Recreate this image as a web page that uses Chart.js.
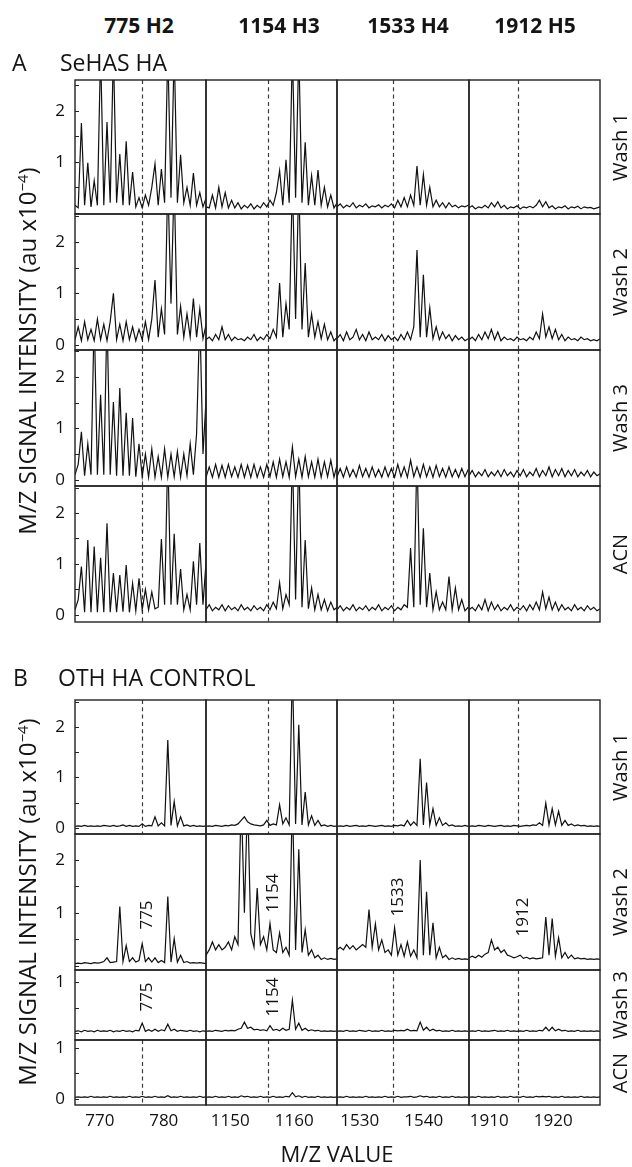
<!DOCTYPE html>
<html>
<head>
<meta charset="utf-8">
<script src="https://cdn.jsdelivr.net/npm/chart.js@4.4.1/dist/chart.umd.min.js"></script>
<style>
  body { margin: 0; background: #fff; }
  #fig { position: relative; width: 632px; height: 1167px; font-family: "Open Sans", sans-serif; color: #141414; overflow: hidden; }
  #fig canvas { position: absolute; }
  .t { position: absolute; white-space: nowrap; line-height: 1; }
  .rot { transform: translate(-50%, -50%) rotate(-90deg); }
  .ctr { transform: translate(-50%, -50%); }
  .lft { transform: translateY(-50%); }
  sup { font-size: 0.62em; line-height: 0; vertical-align: 0.55em; }
</style>
</head>
<body>
<div id="fig"></div>
<script>
// m/z windows, one per column
const colMin = [766.13, 1146.21, 1526.45, 1906.84];
const colMax = [786.6, 1166.68, 1547.08, 1927.31];
const step = 0.5; // spacing of the sampled intensities
const dashAt = [776.6, 1155.9, 1535.2, 1914.5];
const dashLabel = ['775', '1154', '1533', '1912'];
const xTicks = [[770, 780], [1150, 1160], [1530, 1540], [1910, 1920]];
const headers = ['775 H2', '1154 H3', '1533 H4', '1912 H5'];
const rowNames = ['Wash 1', 'Wash 2', 'Wash 3', 'ACN'];
const yMarks = [0, 0.5, 1, 1.5, 2, 2.5];

// intensities (au x10^-4), column by column
const sehasWash1 = [
  [0.15,0.1,1.76,0.15,0.98,0.12,0.63,0.15,3.2,0.15,1.78,0.2,3.2,0.2, 1.15,0.15,1.4,0.15,0.8,0.12,0.3,0.1,0.35,0.15,0.5,0.96,0.15,0.86, 0.2,3.2,0.3,3.2,0.2,1.14,0.2,0.5,0.15,0.78,0.15,0.4,0.12,0.3],
  [0.12,0.1,0.35,0.1,0.5,0.12,0.4,0.1,0.25,0.1,0.2,0.08,0.15,0.1, 0.18,0.08,0.15,0.1,0.2,0.12,0.25,0.15,0.4,0.83,0.15,1.04,0.2,3.2, 0.3,3.2,0.2,1.38,0.15,0.73,0.15,0.84,0.15,0.5,0.12,0.35,0.1,0.2],
  [0.12,0.18,0.1,0.15,0.12,0.2,0.1,0.15,0.12,0.18,0.1,0.14,0.12,0.16, 0.1,0.15,0.12,0.18,0.1,0.25,0.12,0.3,0.12,0.35,0.15,0.92,0.15,0.75, 0.15,0.5,0.12,0.25,0.12,0.2,0.1,0.2,0.12,0.15,0.1,0.14,0.12,0.15],
  [0.1,0.14,0.08,0.12,0.1,0.15,0.1,0.2,0.12,0.22,0.1,0.15,0.08,0.12, 0.1,0.14,0.08,0.12,0.1,0.13,0.1,0.15,0.25,0.12,0.22,0.1,0.14,0.08, 0.12,0.1,0.14,0.08,0.12,0.1,0.13,0.08,0.12,0.1,0.11,0.08,0.1,0.12]
];
const sehasWash2 = [
  [0.1,0.35,0.08,0.45,0.1,0.3,0.08,0.5,0.1,0.4,0.08,0.45,1.0,0.1, 0.4,0.08,0.45,0.1,0.35,0.08,0.3,0.1,0.45,0.1,0.5,1.26,0.15,0.7, 0.2,3.2,0.8,3.2,0.2,0.75,0.15,0.6,0.15,0.9,0.15,0.7,0.12,0.4],
  [0.1,0.15,0.08,0.2,0.1,0.35,0.1,0.2,0.08,0.15,0.1,0.12,0.08,0.15, 0.1,0.2,0.08,0.15,0.1,0.2,0.12,0.3,0.15,1.2,0.15,0.8,0.3,3.2, 0.5,3.2,0.3,1.59,0.15,0.6,0.15,0.45,0.12,0.4,0.1,0.25,0.08,0.15],
  [0.12,0.2,0.08,0.25,0.1,0.15,0.3,0.1,0.2,0.08,0.25,0.1,0.15,0.1, 0.2,0.08,0.18,0.1,0.15,0.08,0.2,0.1,0.25,0.1,0.35,1.84,0.15,1.36, 0.15,0.72,0.12,0.35,0.1,0.25,0.12,0.2,0.08,0.18,0.1,0.15,0.08,0.12],
  [0.1,0.15,0.08,0.2,0.1,0.25,0.12,0.3,0.1,0.25,0.08,0.15,0.1,0.12, 0.08,0.15,0.1,0.12,0.08,0.15,0.1,0.25,0.12,0.6,0.15,0.35,0.12,0.3, 0.1,0.2,0.08,0.15,0.1,0.12,0.08,0.15,0.1,0.12,0.08,0.1,0.08,0.12]
];
const sehasWash3 = [
  [0.1,0.3,0.93,0.08,0.7,0.1,3.2,0.1,1.65,0.1,3.2,0.1,1.51,0.08, 1.78,0.08,1.3,0.08,1.2,0.06,0.7,0.06,0.5,0.05,0.6,0.05,0.45,0.05, 0.6,0.05,0.5,0.06,0.55,0.05,0.5,0.08,0.7,0.1,0.9,3.2,0.5,1.6],
  [0.05,0.25,0.05,0.3,0.05,0.28,0.05,0.3,0.06,0.25,0.05,0.3,0.05,0.28, 0.05,0.3,0.05,0.25,0.05,0.3,0.06,0.35,0.05,0.4,0.06,0.35,0.05,0.64, 0.06,0.4,0.05,0.45,0.06,0.35,0.05,0.4,0.05,0.35,0.06,0.38,0.05,0.3],
  [0.06,0.22,0.05,0.25,0.06,0.2,0.05,0.28,0.06,0.22,0.05,0.25,0.06,0.2, 0.05,0.25,0.06,0.22,0.05,0.3,0.06,0.25,0.05,0.38,0.06,0.25,0.05,0.3, 0.06,0.25,0.05,0.28,0.06,0.22,0.05,0.25,0.06,0.2,0.05,0.22,0.06,0.2],
  [0.08,0.18,0.06,0.15,0.08,0.2,0.06,0.15,0.08,0.18,0.06,0.2,0.08,0.15, 0.06,0.18,0.08,0.2,0.06,0.15,0.08,0.22,0.06,0.18,0.08,0.25,0.06,0.2, 0.08,0.22,0.06,0.18,0.08,0.2,0.06,0.15,0.08,0.18,0.06,0.15,0.08,0.12]
];
const sehasAcn = [
  [0.1,0.3,0.95,0.05,1.47,0.05,1.34,0.05,1.12,0.05,1.8,0.05,0.82,0.05, 0.78,0.06,0.98,0.05,0.62,0.08,0.72,0.1,0.5,0.1,0.45,0.12,0.15,1.49, 0.2,3.2,0.2,1.59,0.2,0.9,0.1,0.4,0.1,1.05,0.2,1.41,0.2,1.08],
  [0.1,0.2,0.08,0.15,0.1,0.2,0.08,0.18,0.1,0.15,0.08,0.2,0.1,0.15, 0.08,0.18,0.1,0.15,0.08,0.2,0.1,0.25,0.12,0.63,0.12,0.4,0.2,3.2, 0.3,3.2,0.15,1.47,0.12,0.53,0.1,0.4,0.1,0.3,0.08,0.25,0.1,0.15],
  [0.1,0.18,0.08,0.15,0.1,0.2,0.08,0.15,0.1,0.18,0.08,0.15,0.1,0.2, 0.08,0.15,0.1,0.18,0.08,0.15,0.1,0.2,0.15,1.31,0.15,3.2,0.2,1.7, 0.15,0.82,0.1,0.45,0.1,0.25,0.1,0.75,0.1,0.53,0.1,0.3,0.08,0.15],
  [0.1,0.15,0.08,0.2,0.1,0.3,0.08,0.25,0.1,0.2,0.08,0.15,0.1,0.2, 0.08,0.15,0.1,0.18,0.08,0.2,0.1,0.25,0.1,0.45,0.12,0.35,0.1,0.25, 0.08,0.2,0.1,0.15,0.08,0.2,0.1,0.15,0.08,0.18,0.1,0.15,0.08,0.12]
];
const othWash1 = [
  [0.03,0.04,0.03,0.05,0.03,0.04,0.03,0.04,0.03,0.05,0.04,0.03,0.05,0.03, 0.04,0.06,0.03,0.05,0.03,0.04,0.03,0.08,0.03,0.05,0.04,0.22,0.04,0.1, 0.04,1.74,0.05,0.52,0.04,0.22,0.04,0.06,0.03,0.05,0.03,0.04,0.03,0.04],
  [0.03,0.04,0.03,0.05,0.04,0.03,0.05,0.04,0.06,0.05,0.08,0.15,0.22,0.12, 0.08,0.06,0.05,0.04,0.06,0.15,0.05,0.08,0.06,0.46,0.08,0.2,0.06,3.2, 0.08,2.04,0.06,0.71,0.06,0.24,0.05,0.15,0.04,0.06,0.03,0.05,0.03,0.04],
  [0.03,0.04,0.03,0.05,0.03,0.04,0.05,0.03,0.04,0.03,0.05,0.04,0.03,0.04, 0.05,0.03,0.04,0.03,0.05,0.04,0.06,0.04,0.15,0.05,0.12,0.05,1.37,0.06, 0.9,0.06,0.38,0.05,0.2,0.05,0.1,0.04,0.06,0.03,0.04,0.03,0.05,0.03],
  [0.03,0.04,0.03,0.05,0.04,0.03,0.05,0.04,0.03,0.04,0.05,0.03,0.04,0.03, 0.05,0.04,0.03,0.04,0.05,0.04,0.06,0.05,0.1,0.05,0.49,0.06,0.38,0.06, 0.33,0.05,0.15,0.05,0.08,0.04,0.06,0.04,0.05,0.03,0.04,0.03,0.04,0.03]
];
const othWash2 = [
  [0.04,0.05,0.04,0.06,0.05,0.04,0.06,0.05,0.06,0.08,0.15,0.06,0.07,0.08, 1.12,0.08,0.38,0.08,0.15,0.07,0.1,0.42,0.08,0.15,0.07,0.15,0.06,0.1, 0.06,1.31,0.07,0.51,0.07,0.2,0.06,0.08,0.05,0.06,0.05,0.06,0.05,0.04],
  [0.2,0.3,0.45,0.3,0.4,0.3,0.35,0.45,0.3,0.55,0.4,3.2,1.0,3.2, 0.6,0.35,1.47,0.4,0.55,0.3,0.8,0.3,0.25,0.62,0.25,0.35,0.2,3.2, 0.3,2.2,0.25,0.68,0.2,0.3,0.15,0.2,0.12,0.15,0.12,0.14,0.12,0.13],
  [0.3,0.35,0.3,0.4,0.32,0.38,0.3,0.35,0.4,0.35,1.06,0.35,0.79,0.3, 0.49,0.25,0.3,0.2,0.72,0.2,0.4,0.18,0.45,0.18,0.3,0.15,2.0,0.2, 1.4,0.2,0.81,0.15,0.35,0.15,0.2,0.12,0.15,0.12,0.14,0.12,0.13,0.12],
  [0.15,0.18,0.15,0.2,0.16,0.22,0.25,0.49,0.3,0.35,0.25,0.3,0.2,0.18, 0.15,0.17,0.2,0.14,0.16,0.13,0.15,0.13,0.14,0.15,0.92,0.2,0.89,0.18, 0.53,0.15,0.25,0.14,0.2,0.13,0.15,0.13,0.14,0.12,0.13,0.12,0.13,0.12]
];
const othWash3 = [
  [0.04,0.05,0.03,0.06,0.04,0.05,0.03,0.06,0.04,0.05,0.04,0.06,0.03,0.05, 0.04,0.06,0.04,0.05,0.03,0.06,0.05,0.2,0.04,0.07,0.04,0.08,0.04,0.07, 0.05,0.18,0.05,0.08,0.04,0.06,0.05,0.04,0.06,0.04,0.05,0.03,0.05,0.04],
  [0.04,0.05,0.04,0.06,0.05,0.04,0.06,0.05,0.06,0.05,0.08,0.1,0.22,0.1, 0.12,0.07,0.08,0.06,0.07,0.05,0.15,0.06,0.08,0.05,0.1,0.06,0.08,0.65, 0.08,0.2,0.06,0.1,0.05,0.07,0.05,0.06,0.04,0.05,0.04,0.05,0.04,0.05],
  [0.04,0.05,0.04,0.06,0.04,0.05,0.04,0.06,0.05,0.04,0.06,0.04,0.05,0.04, 0.06,0.04,0.05,0.04,0.06,0.05,0.06,0.05,0.08,0.05,0.06,0.05,0.22,0.06, 0.12,0.05,0.08,0.05,0.06,0.04,0.05,0.04,0.06,0.04,0.05,0.04,0.05,0.04],
  [0.04,0.05,0.04,0.06,0.04,0.05,0.04,0.05,0.06,0.04,0.05,0.04,0.06,0.04, 0.05,0.04,0.05,0.04,0.06,0.04,0.05,0.04,0.06,0.05,0.12,0.05,0.12,0.05, 0.08,0.05,0.06,0.04,0.05,0.04,0.06,0.04,0.05,0.04,0.05,0.04,0.05,0.04]
];
const othAcn = [
  [0.03,0.04,0.03,0.04,0.03,0.05,0.03,0.04,0.03,0.04,0.03,0.05,0.03,0.04, 0.03,0.04,0.03,0.05,0.03,0.04,0.03,0.05,0.03,0.04,0.03,0.05,0.03,0.04, 0.03,0.06,0.03,0.04,0.03,0.05,0.03,0.04,0.03,0.04,0.03,0.05,0.03,0.04],
  [0.03,0.04,0.03,0.05,0.03,0.04,0.03,0.05,0.03,0.04,0.03,0.06,0.04,0.05, 0.03,0.04,0.03,0.05,0.03,0.04,0.03,0.05,0.03,0.04,0.03,0.05,0.04,0.12, 0.04,0.06,0.03,0.05,0.03,0.04,0.03,0.05,0.03,0.04,0.03,0.04,0.03,0.04],
  [0.03,0.04,0.03,0.05,0.03,0.04,0.03,0.04,0.03,0.05,0.03,0.04,0.03,0.04, 0.03,0.05,0.03,0.04,0.03,0.05,0.03,0.04,0.04,0.05,0.03,0.04,0.06,0.04, 0.05,0.03,0.04,0.03,0.05,0.03,0.04,0.03,0.05,0.03,0.04,0.03,0.04,0.03],
  [0.03,0.04,0.03,0.05,0.03,0.04,0.03,0.04,0.03,0.05,0.03,0.04,0.03,0.05, 0.03,0.04,0.03,0.05,0.03,0.04,0.03,0.05,0.04,0.05,0.04,0.05,0.03,0.04, 0.03,0.05,0.03,0.04,0.03,0.04,0.03,0.05,0.03,0.04,0.03,0.04,0.03,0.04]
];

// y windows and labelled ticks per row
const yRangeA = [[-0.02, 2.6], [-0.1, 2.54], [-0.12, 2.52], [-0.14, 2.53]];
const yRangeB = [[-0.12, 2.53], [-0.08, 2.49], [-0.13, 1.24], [-0.12, 1.15]];
const yLabelsA = [[1, 2], [0, 1, 2], [0, 1, 2], [0, 1, 2]];
const yLabelsB = [[0, 1, 2], [1, 2], [1], [0, 1]];

// page layout (px)
const colLeft = [75, 206, 337, 469, 600];
const rowTopA = [80, 214, 350, 486, 622];
const rowTopB = [700, 834, 970, 1040, 1105];
const dashB = [[1, 1, 1, 1], [0, 0, 0, 0], [0, 0, 1, 1], [1, 1, 1, 1]];
const markB = [[0, 0, 0, 0], [915, 893, 897, 917], [997, 997, 0, 0], [0, 0, 0, 0]];
const markX = [145, 271, 396, 521];

const family = '"Open Sans", sans-serif';
const ink = '#111';
const fig = document.getElementById('fig');

function deco(dash, ticks) {
  return {
    id: 'deco',
    beforeDatasetsDraw(chart) {
      if (!dash) return;
      const { ctx, chartArea: a } = chart;
      const px = Math.round(chart.scales.x.getPixelForValue(dash)) + 0.5;
      ctx.save();
      ctx.strokeStyle = '#3c3c3c';
      ctx.lineWidth = 1.2;
      ctx.setLineDash([4, 3.3]);
      ctx.beginPath();
      ctx.moveTo(px, a.top);
      ctx.lineTo(px, a.bottom);
      ctx.stroke();
      ctx.restore();
    },
    afterDatasetsDraw(chart) {
      const { ctx, chartArea: a } = chart;
      const y = chart.scales.y;
      ctx.save();
      ctx.strokeStyle = '#222';
      ctx.lineWidth = 1.4;
      ctx.strokeRect(a.left, a.top, a.right - a.left, a.bottom - a.top);
      if (ticks) {
        ctx.lineWidth = 1;
        ctx.beginPath();
        yMarks.forEach(v => {
          if (v < y.min || v > y.max) return;
          const py = Math.round(y.getPixelForValue(v)) + 0.5;
          ctx.moveTo(a.left, py);
          ctx.lineTo(a.left + 4, py);
        });
        ctx.stroke();
      }
      ctx.restore();
    }
  };
}

function cell(vals, c, top, bottom, yr, yLab, dash, bottomRow) {
  const pad = 8, axisW = 75, axisH = 30;
  const first = c === 0;
  const left = first ? colLeft[c] - axisW : colLeft[c] - pad;
  const w = colLeft[c + 1] + pad - left;
  const h = bottom - top + pad + (bottomRow ? axisH : pad);
  const cv = document.createElement('canvas');
  cv.width = w; cv.height = h;
  cv.style.left = left + 'px'; cv.style.top = (top - pad) + 'px';
  cv.style.width = w + 'px'; cv.style.height = h + 'px';
  fig.appendChild(cv);
  const font = { family, size: 17 };
  new Chart(cv, {
    type: 'line',
    data: {
      datasets: [{
        data: vals.map((v, i) => ({ x: colMin[c] + i * step, y: v })),
        borderColor: ink, borderWidth: 1.2, pointRadius: 0, tension: 0, fill: false
      }]
    },
    options: {
      responsive: false, animation: false, devicePixelRatio: 1, events: [],
      layout: { padding: { left: first ? 0 : pad, right: pad, top: pad, bottom: bottomRow ? 0 : pad } },
      plugins: { legend: { display: false }, tooltip: { enabled: false } },
      scales: {
        x: {
          type: 'linear', min: colMin[c], max: colMax[c], display: bottomRow,
          afterBuildTicks: s => { s.ticks = xTicks[c].map(v => ({ value: v })); },
          afterFit: s => { if (bottomRow) { s.height = axisH; s.paddingLeft = 0; s.paddingRight = 0; } },
          grid: { display: false, drawTicks: false }, border: { display: false },
          ticks: { font, color: ink, padding: 6, maxRotation: 0, autoSkip: false, callback: v => String(v) }
        },
        y: {
          type: 'linear', min: yr[0], max: yr[1], display: first,
          afterBuildTicks: s => { s.ticks = yLab.map(v => ({ value: v })); },
          afterFit: s => { if (first) { s.width = axisW; s.paddingTop = 0; s.paddingBottom = 0; } },
          grid: { display: false, drawTicks: false }, border: { display: false },
          ticks: { font, color: ink, padding: 10, autoSkip: false, callback: v => String(v) }
        }
      }
    },
    plugins: [deco(dash, first)]
  });
}

function text(html, x, y, cls, style) {
  const d = document.createElement('div');
  d.className = 't ' + cls;
  d.style.left = x + 'px'; d.style.top = y + 'px';
  d.style.cssText += style || '';
  d.innerHTML = html;
  fig.appendChild(d);
}

const panelA = [sehasWash1, sehasWash2, sehasWash3, sehasAcn];
const panelB = [othWash1, othWash2, othWash3, othAcn];

panelA.forEach((row, r) => row.forEach((vals, c) =>
  cell(vals, c, rowTopA[r], rowTopA[r + 1], yRangeA[r], yLabelsA[r], dashAt[c], false)));
panelB.forEach((row, r) => row.forEach((vals, c) =>
  cell(vals, c, rowTopB[r], rowTopB[r + 1], yRangeB[r], yLabelsB[r], dashB[r][c] ? dashAt[c] : 0, r === 3)));

// labels
const headX = [139, 279, 408, 535];
headers.forEach((s, i) => text(s, headX[i], 25, 'ctr', 'font-size:21px;font-weight:700;'));
text('A', 12, 62, 'lft', 'font-size:23px;');
text('SeHAS HA', 60, 62, 'lft', 'font-size:23px;');
text('B', 13, 677, 'lft', 'font-size:23px;');
text('OTH HA CONTROL', 58, 677, 'lft', 'font-size:23px;');
const yTitle = 'M/Z SIGNAL INTENSITY (au x10<sup>\u22124</sup>)';
text(yTitle, 27, 351, 'rot', 'font-size:24px;');
text(yTitle, 27, 902, 'rot', 'font-size:24px;');
rowNames.forEach((s, r) => {
  text(s, 620, (rowTopA[r] + rowTopA[r + 1]) / 2, 'rot', 'font-size:20px;');
  text(s, 620, (rowTopB[r] + rowTopB[r + 1]) / 2, 'rot', 'font-size:20px;');
});
markB.forEach((row, r) => row.forEach((y, c) => {
  if (y) text(dashLabel[c], markX[c], y, 'rot', 'font-size:17px;');
}));
text('M/Z VALUE', 337, 1153, 'ctr', 'font-size:22px;');
</script>
</body>
</html>
